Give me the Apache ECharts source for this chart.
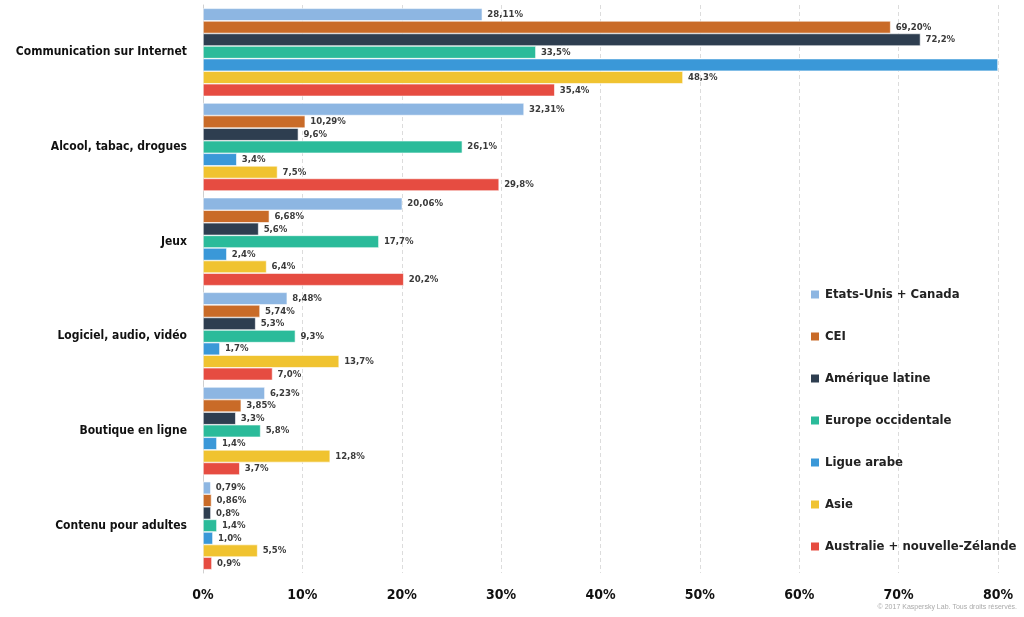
<!DOCTYPE html>
<html>
<head>
<meta charset="utf-8">
<script src="https://cdn.jsdelivr.net/npm/echarts@6/dist/echarts.min.js"></script>
<style>
  html, body { margin: 0; padding: 0; background: #fff; }
  #main { width: 1024px; height: 617px; }
</style>
</head>
<body>
<div id="main"></div>
<script>
// categories, top to bottom
var categories = ['Communication sur Internet', 'Alcool, tabac, drogues', 'Jeux',
    'Logiciel, audio, vidéo', 'Boutique en ligne', 'Contenu pour adultes'];

var regions = ['Etats-Unis + Canada', 'CEI', 'Amérique latine', 'Europe occidentale',
    'Ligue arabe', 'Asie', 'Australie + nouvelle-Zélande'];
var colors = ['#8db6e2', '#c96b28', '#2e3e50', '#2bbb9a', '#3a98d8', '#f0c330', '#e64c41'];
var decimals = [2, 2, 1, 1, 1, 1, 1];

var usCanada   = [28.11, 32.31, 20.06, 8.48, 6.23, 0.79];
var cei        = [69.20, 10.29, 6.68, 5.74, 3.85, 0.86];
var amLatine   = [72.2, 9.6, 5.6, 5.3, 3.3, 0.8];
var europeOcc  = [33.5, 26.1, 17.7, 9.3, 5.8, 1.4];
var ligueArabe = [80, 3.4, 2.4, 1.7, 1.4, 1.0];   // first bar runs off the scale, no label
var asie       = [48.3, 7.5, 6.4, 13.7, 12.8, 5.5];
var australie  = [35.4, 29.8, 20.2, 7.0, 3.7, 0.9];

var xTicks = [0, 10, 20, 30, 40, 50, 60, 70, 80];
var xMax = 80;

var allData = [usCanada, cei, amLatine, europeOcc, ligueArabe, asie, australie];
var condensed = '"Liberation Sans Narrow", "DejaVu Sans Condensed", sans-serif';

var series = [];
for (var i = 0; i < regions.length; i++) {
    (function (i) {
        series.push({
            name: regions[i],
            type: 'bar',
            barGap: '0%',
            barCategoryGap: '7%',
            itemStyle: { color: colors[i], borderColor: '#fff', borderWidth: 0.6 },
            label: {
                show: true,
                position: 'right',
                distance: 5,
                fontFamily: condensed,
                fontWeight: 'bold',
                fontSize: 9.5,
                color: '#3a3a3a',
                formatter: function (p) {
                    if (p.value >= xMax) return '';
                    return p.value.toFixed(decimals[i]).replace('.', ',') + '%';
                }
            },
            data: allData[i]
        });
    })(i);
}

var myChart = echarts.init(document.getElementById('main'));
var option = {
    animation: false,
    grid: { left: 203, right: 26, top: 5, bottom: 44, outerBoundsMode: 'none' },
    legend: {
        orient: 'vertical',
        left: 804,
        top: 283,
        itemWidth: 10,
        itemHeight: 10,
        itemGap: 29,
        icon: 'rect',
        textStyle: { fontFamily: condensed, fontWeight: 'bold', fontSize: 13, color: '#222' },
        data: regions
    },
    xAxis: {
        type: 'value',
        min: 0,
        max: xMax,
        interval: 10,
        axisLine: { show: false },
        axisTick: { show: false },
        splitLine: { show: true, lineStyle: { color: '#dcdcdc', type: [4, 3] } },
        axisLabel: {
            margin: 15,
            fontFamily: condensed,
            fontWeight: 'bold',
            fontSize: 14,
            color: '#111',
            formatter: function (v) { return xTicks.indexOf(v) >= 0 ? v + '%' : ''; }
        }
    },
    yAxis: {
        type: 'category',
        inverse: true,
        data: categories,
        axisLine: { show: true, lineStyle: { color: '#d0d0d0' } },
        axisTick: { show: false },
        axisLabel: {
            margin: 16,
            fontFamily: condensed,
            fontWeight: 'bold',
            fontSize: 12,
            color: '#111'
        }
    },
    graphic: [{
        type: 'text',
        right: 7,
        bottom: 6,
        style: {
            text: '© 2017 Kaspersky Lab. Tous droits réservés.',
            fontFamily: 'Liberation Sans, sans-serif',
            fontSize: 7,
            fill: '#aaa'
        }
    }],
    series: series
};
myChart.setOption(option);
</script>
</body>
</html>
